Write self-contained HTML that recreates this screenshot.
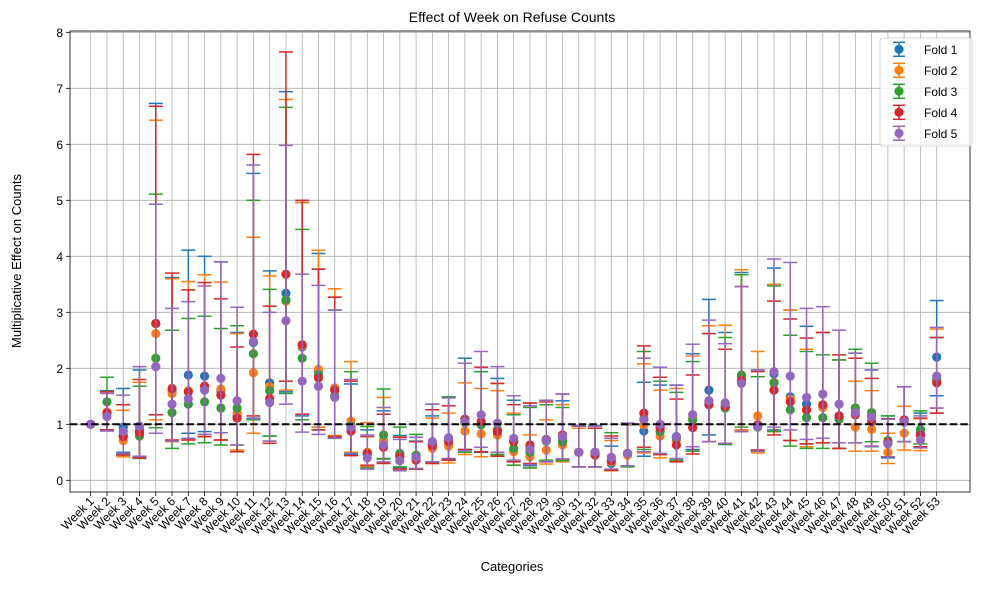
<!DOCTYPE html>
<html><head><meta charset="utf-8"><style>
body{margin:0;background:#fff;}
svg text{font-family:"Liberation Sans","DejaVu Sans",sans-serif;fill:#000;}
</style></head><body>
<svg id="chart" width="988" height="584" viewBox="0 0 988 584" xmlns="http://www.w3.org/2000/svg">
<rect width="988" height="584" fill="#fff"/>
<g id="grid"></g>
<g id="marks"></g>
<g id="axes"></g>
<text x="512" y="22" font-size="14" text-anchor="middle">Effect of Week on Refuse Counts</text>
<text x="512" y="571" font-size="13" text-anchor="middle">Categories</text>
<text x="21" y="261" font-size="13" text-anchor="middle" transform="rotate(-90 21 261)">Multiplicative Effect on Counts</text>
<g id="legend"></g>
</svg>
<script>
const weeks = Array.from({length:53},(_,i)=>'Week '+(i+1));
const yTicks = [0,1,2,3,4,5,6,7,8];
const foldNames = ['Fold 1','Fold 2','Fold 3','Fold 4','Fold 5'];
const foldColors = ['#1f77b4','#ff7f0e','#2ca02c','#d62728','#9467bd'];

const f1Val=[1,1.2,0.95,0.9,2.8,1.6,1.88,1.86,1.6,1.15,2.46,1.74,3.34,2.38,1.95,1.62,0.9,0.5,0.7,0.45,0.4,0.64,0.7,1.09,1.0,0.9,0.7,0.6,0.73,0.75,0.5,0.5,0.3,0.48,0.88,0.95,0.78,1.1,1.61,1.3,1.85,0.99,1.9,1.49,1.36,1.32,1.12,1.29,1.15,0.68,1.08,0.85,2.2];
const f1Hi=[1,1.6,1.64,1.97,6.73,3.62,4.11,4.0,3.9,2.64,5.48,3.74,6.94,4.96,4.05,3.27,1.72,0.9,1.24,0.8,0.7,1.15,1.49,2.18,1.94,1.82,1.43,1.38,1.43,1.42,0.97,0.97,0.61,0.99,1.75,1.7,1.7,2.26,3.23,2.64,3.71,1.97,3.79,3.04,2.75,2.64,2.15,2.27,1.97,1.15,1.67,1.2,3.21];
const f1Lo=[1,0.9,0.5,0.42,1.17,0.7,0.84,0.87,0.72,0.51,1.11,0.79,1.58,1.15,0.95,0.78,0.46,0.25,0.38,0.22,0.2,0.33,0.37,0.55,0.5,0.46,0.33,0.26,0.33,0.36,0.24,0.24,0.17,0.26,0.43,0.46,0.36,0.55,0.81,0.64,0.9,0.52,0.9,0.71,0.65,0.67,0.57,0.67,0.6,0.4,0.69,0.6,1.51];

const f2Val=[1,1.22,0.71,0.82,2.62,1.55,1.6,1.68,1.63,1.2,1.92,1.67,3.2,2.4,1.98,1.65,1.06,0.5,0.71,0.42,0.38,0.57,0.61,0.88,0.83,0.81,0.51,0.42,0.54,0.63,0.5,0.5,0.33,0.45,0.99,0.79,0.72,1.1,1.38,1.38,1.85,1.15,1.75,1.45,1.25,1.3,1.15,0.95,0.91,0.5,0.84,0.8,1.8];
const f2Hi=[1,1.58,1.25,1.75,6.43,3.6,3.55,3.67,3.54,2.62,4.34,3.65,6.8,4.96,4.11,3.42,2.12,1.03,1.48,0.77,0.69,1.11,1.2,1.74,1.64,1.6,1.2,0.81,1.08,1.35,0.93,0.93,0.71,1.0,2.08,1.61,1.64,2.22,2.76,2.77,3.76,2.3,3.5,3.04,2.34,2.64,2.15,1.77,1.6,0.84,1.32,1.1,2.7];
const f2Lo=[1,0.9,0.42,0.4,1.08,0.69,0.72,0.78,0.72,0.54,0.84,0.7,1.61,1.18,0.95,0.8,0.5,0.24,0.32,0.2,0.2,0.3,0.31,0.46,0.42,0.43,0.27,0.22,0.29,0.33,0.24,0.24,0.17,0.24,0.49,0.4,0.33,0.52,0.69,0.66,0.9,0.49,0.87,0.71,0.6,0.67,0.57,0.52,0.52,0.3,0.54,0.53,1.29];

const f3Val=[1,1.4,0.8,0.79,2.18,1.21,1.36,1.4,1.29,1.29,2.26,1.6,3.22,2.18,1.88,1.51,0.97,0.47,0.81,0.48,0.45,0.66,0.73,1.03,0.99,0.9,0.57,0.5,0.7,0.69,0.5,0.5,0.41,0.48,1.1,0.87,0.75,1.08,1.38,1.29,1.88,0.95,1.74,1.26,1.12,1.12,1.09,1.29,1.21,0.71,1.05,0.91,1.8];
const f3Hi=[1,1.84,1.35,1.68,5.11,2.68,2.89,2.93,2.71,2.76,5.0,3.41,6.66,4.48,3.77,3.04,1.94,0.96,1.63,0.95,0.82,1.36,1.49,2.09,1.94,1.73,1.17,1.3,1.35,1.3,0.97,0.97,0.85,1.02,2.3,1.77,1.57,2.12,2.62,2.55,3.67,1.85,3.47,2.59,2.3,2.24,2.15,2.34,2.09,1.15,1.67,1.24,2.55];
const f3Lo=[1,0.9,0.46,0.39,0.94,0.57,0.65,0.67,0.63,0.63,1.08,0.79,1.55,1.08,0.9,0.75,0.48,0.22,0.39,0.24,0.21,0.32,0.36,0.5,0.51,0.46,0.27,0.22,0.36,0.35,0.24,0.24,0.19,0.24,0.55,0.46,0.36,0.52,0.69,0.64,0.95,0.54,0.87,0.61,0.57,0.57,0.57,0.67,0.69,0.42,0.69,0.65,1.2];

const f4Val=[1,1.2,0.78,0.85,2.8,1.64,1.58,1.68,1.52,1.11,2.61,1.46,3.68,2.42,1.83,1.61,0.88,0.48,0.59,0.42,0.36,0.62,0.69,1.09,1.05,0.87,0.69,0.63,0.72,0.81,0.5,0.45,0.35,0.48,1.2,0.93,0.63,0.94,1.35,1.32,1.78,0.99,1.61,1.4,1.26,1.35,1.15,1.17,1.05,0.68,1.08,0.81,1.74];
const f4Hi=[1,1.58,1.35,1.8,6.68,3.7,3.4,3.53,3.24,2.38,5.82,3.11,7.65,5.0,3.77,3.27,1.77,0.78,1.18,0.77,0.69,1.26,1.33,2.09,2.02,1.73,1.35,1.38,1.4,1.54,0.97,0.93,0.79,1.02,2.4,1.84,1.45,1.88,2.62,2.34,3.46,1.94,3.2,2.88,2.54,2.64,2.24,2.18,1.82,1.1,1.67,1.11,2.55];
const f4Lo=[1,0.9,0.45,0.4,1.17,0.72,0.72,0.78,0.72,0.51,1.15,0.66,1.77,1.18,0.9,0.78,0.44,0.27,0.3,0.2,0.2,0.3,0.36,0.55,0.51,0.43,0.33,0.3,0.33,0.38,0.24,0.24,0.18,0.26,0.59,0.46,0.33,0.47,0.69,0.66,0.87,0.54,0.81,0.71,0.65,0.67,0.57,0.67,0.61,0.42,0.69,0.6,1.2];

const f5Val=[1,1.14,0.87,0.97,2.03,1.36,1.46,1.61,1.82,1.42,2.48,1.39,2.85,1.77,1.68,1.48,0.95,0.4,0.63,0.35,0.41,0.69,0.76,1.05,1.17,1.02,0.75,0.55,0.71,0.78,0.5,0.5,0.41,0.48,1.08,1.0,0.77,1.17,1.42,1.38,1.73,0.96,1.94,1.86,1.48,1.54,1.36,1.21,1.13,0.65,1.04,0.72,1.86];
const f5Hi=[1,1.55,1.52,2.03,4.93,3.07,3.19,3.47,3.9,3.09,5.63,3.0,5.98,3.68,3.48,3.04,1.8,0.81,1.3,0.73,0.77,1.36,1.47,2.09,2.3,2.03,1.51,1.33,1.43,1.54,0.97,0.97,0.75,1.02,2.18,2.02,1.7,2.43,2.86,2.44,3.46,1.97,3.95,3.89,3.07,3.1,2.68,2.27,1.97,1.09,1.67,1.15,2.73];
const f5Lo=[1,0.88,0.48,0.43,0.84,0.7,0.75,0.82,0.85,0.63,1.1,0.7,1.36,0.86,0.82,0.75,0.48,0.2,0.33,0.17,0.21,0.33,0.39,0.53,0.59,0.5,0.36,0.28,0.33,0.38,0.24,0.24,0.2,0.26,0.51,0.48,0.39,0.6,0.69,0.66,0.87,0.52,0.95,0.9,0.73,0.75,0.67,0.67,0.61,0.42,0.69,0.58,1.29];

const refLine = 1;

const NS='http://www.w3.org/2000/svg';
const L=70,R=970,T=31,B=492;
const xScale=i=>90.7+i*(936.7-90.7)/(weeks.length-1);
const yScale=v=>480.3-56*v;
function mk(tag,attrs,parent){const e=document.createElementNS(NS,tag);for(const k in attrs)e.setAttribute(k,attrs[k]);parent.appendChild(e);return e;}

const grid=document.getElementById('grid'),axes=document.getElementById('axes'),marks=document.getElementById('marks'),legend=document.getElementById('legend');

weeks.forEach((w,i)=>{
  const g=mk('line',{x1:xScale(i),x2:xScale(i),y1:T,y2:B,stroke:'#b0b0b0','stroke-width':0.8},grid);
  
  
  const t=mk('line',{x1:xScale(i),x2:xScale(i),y1:B,y2:B+4,stroke:'#000','stroke-width':0.8},axes);
  
  
  const lx=xScale(i)+4, ly=B+10;
  const lb=mk('text',{x:lx,y:ly,'font-size':12,'text-anchor':'end',transform:`rotate(-45 ${lx} ${ly})`},axes);
  lb.textContent=w;
  
  
});
yTicks.forEach(v=>{
  const g=mk('line',{x1:L,x2:R,y1:yScale(v),y2:yScale(v),stroke:'#b0b0b0','stroke-width':0.8},grid);
  
  
  const t=mk('line',{x1:L-4,x2:L,y1:yScale(v),y2:yScale(v),stroke:'#000','stroke-width':0.8},axes);
  
  
  const lb=mk('text',{x:L-7,y:yScale(v)+4.5,'font-size':12,'text-anchor':'end'},axes);
  lb.textContent=v;
  
  
});

const series=[[f1Val,f1Lo,f1Hi],[f2Val,f2Lo,f2Hi],[f3Val,f3Lo,f3Hi],[f4Val,f4Lo,f4Hi],[f5Val,f5Lo,f5Hi]];
series.forEach((s,f)=>{
  const c=foldColors[f];
  const g=mk('g',{},marks);
  
  
  weeks.forEach((w,i)=>{
    const x=xScale(i),yl=yScale(s[1][i]),yh=yScale(s[2][i]);
    const e=mk('line',{x1:x,x2:x,y1:yl,y2:yh,stroke:c,'stroke-width':1.5},g);
    
    
    [yl,yh].forEach(yy=>{
      const cp=mk('line',{x1:x-7,x2:x+7,y1:yy,y2:yy,stroke:c,'stroke-width':1.5},g);
      
      
    });
  });
  weeks.forEach((w,i)=>{
    const p=mk('circle',{cx:xScale(i),cy:yScale(s[0][i]),r:4.6,fill:c},g);
    
    
  });
});

const ref=mk('line',{x1:L,x2:R,y1:yScale(refLine),y2:yScale(refLine),stroke:'#000','stroke-width':2,'stroke-dasharray':'7.4 3.2'},marks);



const frame=mk('rect',{x:L,y:T,width:R-L,height:B-T,fill:'none',stroke:'#000','stroke-width':0.8},axes);



const lbox=mk('rect',{x:880,y:38,width:92,height:108,rx:3,fill:'#fff','fill-opacity':0.8,stroke:'#ccc','stroke-width':0.8},legend);


foldNames.forEach((n,f)=>{
  const y=49.3+f*21,c=foldColors[f];
  const g=mk('g',{},legend);
  
  
  mk('line',{x1:899,x2:899,y1:y-7,y2:y+7,stroke:c,'stroke-width':1.5},g);
  mk('line',{x1:893,x2:905,y1:y-7,y2:y-7,stroke:c,'stroke-width':1.5},g);
  mk('line',{x1:893,x2:905,y1:y+7,y2:y+7,stroke:c,'stroke-width':1.5},g);
  mk('circle',{cx:899,cy:y,r:4.6,fill:c},g);
  const t=mk('text',{x:924,y:y+4.5,'font-size':12},g);
  t.textContent=n;
});
</script>
</body></html>
